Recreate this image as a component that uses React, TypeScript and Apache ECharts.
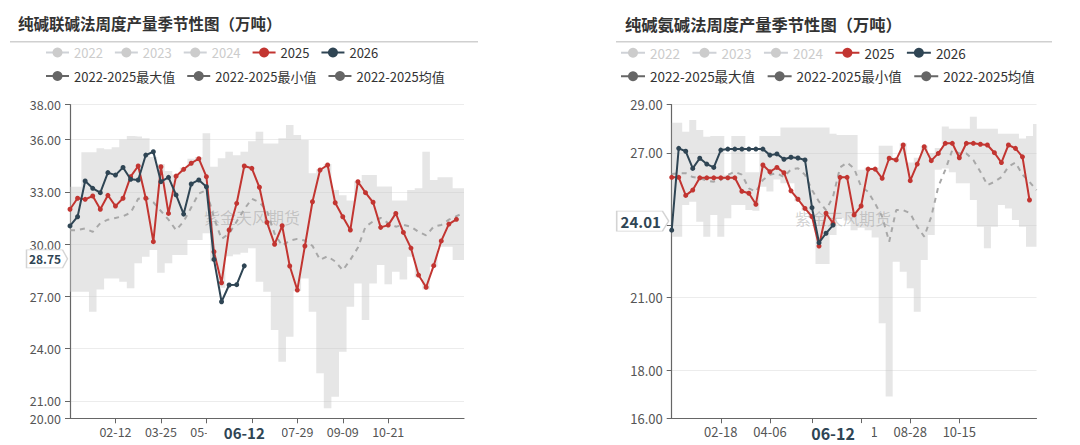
import React, { useEffect, useRef } from 'react';
import * as echarts from 'echarts';

const leftTitle = '纯碱联碱法周度产量季节性图（万吨）';
const rightTitle = '纯碱氨碱法周度产量季节性图（万吨）';
const watermark = '紫金天风期货';
const latestDate = '06-12';

const hiddenYears = ['2022', '2023', '2024'];
const shownYears = ['2025', '2026'];
const maxName = '2022-2025最大值';
const minName = '2022-2025最小值';
const meanName = '2022-2025均值';

const leftDates = ['01-01','01-08','01-15','01-22','01-29','02-05','02-12','02-19','02-26','03-04','03-11','03-18','03-25','04-01','04-08','04-15','04-22','04-29','05-06','05-13','05-20','05-27','06-03','06-10','06-17','06-24','07-01','07-08','07-15','07-22','07-29','08-05','08-12','08-19','08-26','09-02','09-09','09-16','09-23','09-30','10-07','10-14','10-21','10-28','11-04','11-11','11-18','11-25','12-02','12-09','12-16','12-23','12-30'];
const leftTickLabels = ['02-12','03-25','05-06','06-17','07-29','09-09','10-21'];

const left2025 = [32.0,32.63,32.57,32.76,32.0,32.8,32.18,32.63,33.87,34.48,32.63,30.14,34.44,31.76,33.9,34.29,34.64,34.9,33.87,29.56,27.78,30.81,32.34,34.48,34.35,33.26,31.25,29.99,31.05,28.74,27.36,29.89,32.43,34.25,34.54,32.37,31.57,30.81,33.58,32.95,32.4,30.96,31.09,31.76,30.67,29.77,28.22,27.52,28.76,30.18,31.15,31.42];
const left2026 = [31.04,31.57,33.62,33.2,32.95,34.1,33.96,34.4,33.72,33.68,35.11,35.3,33.58,33.83,32.82,31.72,33.45,33.68,33.29,29.12,26.69,27.65,27.67,28.75];
const leftMax = [33.29,33.29,35.27,35.27,35.5,35.44,35.56,36.0,36.2,36.17,36.07,35.0,34.6,34.2,34.0,34.4,34.9,35.0,36.36,34.44,34.92,35.3,35.1,35.3,35.9,36.45,35.78,35.78,36.07,36.83,36.26,35.97,34.06,34.3,34.6,33.1,32.8,32.5,33.6,33.96,33.96,33.3,33.3,32.5,32.5,33.1,33.2,35.3,33.68,33.83,33.83,33.2,33.2];
const leftMin = [27.27,27.27,27.27,26.12,27.4,28.03,28.03,27.84,27.46,28.9,29.27,29.66,28.36,28.9,29.37,29.37,30.23,30.23,30.62,29.0,27.5,29.3,29.4,29.5,29.76,27.84,27.27,25.07,23.25,24.68,27.3,28.03,26.12,22.58,20.57,21.24,23.82,26.4,27.74,25.64,27.74,28.8,27.7,28.41,27.97,29.27,28.1,27.4,28.7,29.85,29.85,29.08,29.08];
const leftMean = [30.8,30.8,30.9,30.7,31.2,31.4,31.5,31.6,31.8,32.6,32.7,32.4,31.9,31.4,30.8,31.3,32.1,32.9,33.1,31.5,30.3,30.6,31.3,32.0,32.6,32.4,31.9,30.6,29.9,30.2,30.3,30.2,29.9,29.1,29.3,29.0,28.5,29.1,29.8,31.0,31.3,31.5,31.2,31.0,31.1,31.0,30.7,30.5,31.0,31.1,31.4,31.6,31.8];

const rightDates = ['01-01','01-08','01-15','01-22','01-29','02-05','02-12','02-18','02-25','03-03','03-10','03-17','03-24','03-31','04-06','04-13','04-20','04-27','05-04','05-11','05-18','05-25','06-01','06-08','06-16','06-24','07-02','07-11','07-18','07-25','08-01','08-08','08-15','08-22','08-28','09-04','09-11','09-18','09-25','10-02','10-09','10-15','10-22','10-29','11-05','11-12','11-19','11-26','12-03','12-10','12-17','12-24','12-31'];
const rightTickLabels = ['02-18','04-06','05-18','07-11','08-28','10-15'];

const right2025 = [25.99,25.99,25.24,25.46,25.97,25.97,25.97,25.97,25.97,25.97,25.41,25.33,24.87,26.5,26.22,26.4,26.18,25.43,25.08,24.7,24.36,23.14,24.5,24.08,25.99,25.99,24.43,24.8,26.33,26.33,25.95,26.78,26.71,27.33,25.85,26.54,27.26,26.68,26.98,27.4,27.4,26.8,27.4,27.4,27.36,27.33,27.01,26.6,27.33,27.19,26.84,25.05];
const right2026 = [23.8,27.19,27.07,26.36,26.78,26.54,26.4,27.12,27.16,27.16,27.16,27.16,27.16,27.16,26.91,26.96,26.74,26.82,26.79,26.71,24.73,23.28,23.67,24.01];
const rightMax = [28.25,28.25,27.88,28.37,27.95,27.67,27.7,27.7,26.1,27.7,27.7,26.2,26.2,27.7,27.7,27.7,28.05,28.05,28.05,28.05,28.05,28.05,28.05,27.8,27.74,27.74,27.74,26.3,26.4,26.4,27.3,27.3,26.8,27.4,26.6,26.8,27.3,27.0,27.2,28.1,28.0,28.0,28.0,28.5,28.0,28.0,28.0,27.8,27.8,27.8,27.6,27.7,28.2];
const rightMin = [23.53,23.53,24.84,24.98,24.15,23.53,24.43,23.53,24.29,24.84,24.84,24.63,24.6,25.6,25.4,25.9,25.74,25.74,25.0,24.6,24.3,22.4,22.4,23.6,24.3,24.2,23.8,23.9,23.8,23.5,19.94,16.9,22.49,22.08,21.39,20.42,22.56,23.6,26.3,26.36,26.2,25.74,25.74,25.05,23.94,23.05,23.94,24.84,24.7,24.22,23.94,23.11,23.11];
const rightMean = [26.13,26.16,26.16,26.0,25.95,25.85,25.81,25.88,26.09,26.22,26.1,25.53,25.39,25.88,26.1,26.16,26.0,26.32,26.37,26.1,25.46,24.98,24.63,25.19,26.4,26.6,26.36,25.6,25.39,24.9,24.36,23.32,24.63,24.63,24.5,23.94,23.53,24.36,25.6,26.3,27.12,26.98,26.98,26.71,26.22,25.67,25.8,26.0,26.43,26.6,26.1,25.8,25.46];

const leftYRange = [20, 38];
const rightYRange = [16, 29];

const FONT = '"Noto Sans CJK SC", "Noto Sans", sans-serif';
const RED = '#c23531';
const NAVY = '#2f4554';
const TAG_PATH = 'path://M0,0 L44,0 L50,10 L44,20 L0,20 Z';

const panels = [
  { title: leftTitle, dates: leftDates, ticks: leftTickLabels, y2025: left2025, y2026: left2026, max: leftMax, min: leftMin, mean: leftMean, yRange: leftYRange },
  { title: rightTitle, dates: rightDates, ticks: rightTickLabels, y2025: right2025, y2026: right2026, max: rightMax, min: rightMin, mean: rightMean, yRange: rightYRange },
];

const looks = [
  { grid: { left: 70, right: 616, top: 104.7, bottom: 26.7 }, axisFont: 12.5, legendFont: 13, ptrFont: 15, tagFont: 12, tagSize: [41, 18], tagOffset: [-23, -7], legendLeft: 45, itemWidth: 23, itemGap: 11, titleLeft: 18, titleTop: 15, titleFont: 15.5, line: [10, 478], wm: [252, 217] },
  { grid: { left: 671.7, right: 43.5, top: 104.7, bottom: 26.7 }, axisFont: 13, legendFont: 13.5, ptrFont: 16, tagFont: 15, tagSize: [52, 20], tagOffset: [-29, -4], legendLeft: 620, itemWidth: 24, itemGap: 11.5, titleLeft: 625, titleTop: 16, titleFont: 16.3, line: [616, 1052], wm: [843, 218] },
];

function buildOption() {
  const titles: any[] = [];
  const legends: any[] = [];
  const grids: any[] = [];
  const xAxes: any[] = [];
  const yAxes: any[] = [];
  const series: any[] = [];
  const graphics: any[] = [];

  panels.forEach((d, p) => {
    const lk = looks[p];
    const lastIdx = d.y2026.length - 1;
    const lastVal = d.y2026[lastIdx];
    const showTick = (_i: number, v: string) => d.ticks.indexOf(v) >= 0;

    titles.push({
      text: d.title, left: lk.titleLeft, top: lk.titleTop, padding: 0,
      textStyle: { fontSize: lk.titleFont, fontWeight: 'bold', color: '#333', fontFamily: FONT },
    });

    const legendBase = {
      left: lk.legendLeft, padding: 0, itemWidth: lk.itemWidth, itemHeight: 12.5, itemGap: lk.itemGap,
      inactiveColor: '#ccc', selectedMode: false,
      textStyle: { color: '#333', fontSize: lk.legendFont, fontFamily: FONT },
    };
    legends.push({
      ...legendBase, top: 46,
      data: [...hiddenYears, ...shownYears].map((n) => ({ name: n })),
      selected: { '2022': false, '2023': false, '2024': false },
    });
    legends.push({
      ...legendBase, top: 69.5,
      data: [maxName, minName, meanName].map((n) => ({
        name: n,
        itemStyle: { color: '#666', opacity: 1 },
        lineStyle: { color: '#666', opacity: 1, type: 'solid', width: 2 },
      })),
    });

    grids.push({ ...lk.grid, containLabel: false, outerBoundsMode: 'none' });

    xAxes.push({
      type: 'category', gridIndex: p, data: d.dates, boundaryGap: false,
      axisLine: { lineStyle: { color: '#666', width: 1.2 } },
      axisTick: { show: true, length: 5, interval: showTick, lineStyle: { color: '#666' } },
      axisLabel: { interval: showTick, color: '#555', fontSize: lk.axisFont, margin: 7, fontFamily: FONT },
      splitLine: { show: false },
      axisPointer: {
        show: true, type: 'line', value: lastIdx, status: 'show', triggerTooltip: false,
        lineStyle: { opacity: 0 },
        label: {
          show: true, formatter: () => latestDate, backgroundColor: '#fff', color: NAVY,
          fontWeight: 'bold', fontSize: lk.ptrFont, padding: [2, 17], margin: 5,
          shadowBlur: 0, borderWidth: 0, fontFamily: FONT,
        },
      },
    });

    yAxes.push({
      type: 'value', gridIndex: p, min: d.yRange[0], max: d.yRange[1],
      axisLine: { show: true, lineStyle: { color: '#666', width: 1.2 } },
      axisTick: { show: true, length: 5, lineStyle: { color: '#666' } },
      axisLabel: { color: '#555', fontSize: lk.axisFont, margin: 9, fontFamily: FONT, formatter: (v: number) => v.toFixed(2) },
      splitLine: { lineStyle: { color: '#ececec', width: 1.2 } },
    });

    const base = { type: 'line', xAxisIndex: p, yAxisIndex: p };
    const stack = 'band' + p;

    hiddenYears.forEach((n) => series.push({ ...base, name: n, data: [], symbol: 'circle', itemStyle: { color: '#ccc' } }));

    series.push({
      ...base, name: minName, data: d.min, stack, step: 'middle', symbol: 'circle', showSymbol: false,
      lineStyle: { opacity: 0 }, itemStyle: { color: '#666' }, z: 1, silent: true,
    });
    series.push({
      ...base, name: maxName, data: d.max.map((v, i) => +(v - d.min[i]).toFixed(3)), stack, step: 'middle',
      symbol: 'circle', showSymbol: false, lineStyle: { opacity: 0 },
      areaStyle: { color: 'rgb(200,200,200)', opacity: 0.45 }, itemStyle: { color: '#666' }, z: 1, silent: true,
    });
    series.push({
      ...base, name: meanName, data: d.mean, symbol: 'circle', showSymbol: false,
      lineStyle: { color: '#a8a8a8', width: 2, type: [5, 5] }, itemStyle: { color: '#666' }, z: 2, silent: true,
    });
    series.push({
      ...base, name: '2025', data: d.y2025, symbol: 'circle', symbolSize: 5, showAllSymbol: true,
      lineStyle: { width: 2, color: RED }, itemStyle: { color: RED }, z: 4,
    });
    series.push({
      ...base, name: '2026', data: d.y2026, symbol: 'circle', symbolSize: 5, showAllSymbol: true,
      lineStyle: { width: 2, color: NAVY }, itemStyle: { color: NAVY }, z: 5,
      markPoint: {
        silent: true, symbol: TAG_PATH, symbolSize: lk.tagSize, symbolOffset: lk.tagOffset,
        itemStyle: { color: '#fff', borderColor: '#d4d4d4', borderWidth: 1 },
        label: {
          show: true, position: 'inside', color: NAVY, fontWeight: 'bold', fontSize: lk.tagFont,
          offset: [-2, 0], fontFamily: FONT, formatter: lastVal.toFixed(2),
        },
        data: [{ coord: [0, lastVal] }],
      },
    });

    graphics.push({
      type: 'line', silent: true, shape: { x1: lk.line[0], y1: 41.7, x2: lk.line[1], y2: 41.7 },
      style: { stroke: '#d0d0d0', lineWidth: 1.5 },
    });
    graphics.push({
      type: 'text', silent: true, x: lk.wm[0], y: lk.wm[1], z: 1.5,
      style: { text: watermark, fill: 'rgba(120,120,120,0.33)', font: `16px ${FONT}`, textAlign: 'center', textVerticalAlign: 'middle' },
    });
  });

  return {
    animation: false,
    backgroundColor: '#fff',
    textStyle: { fontFamily: FONT },
    title: titles,
    legend: legends,
    grid: grids,
    xAxis: xAxes,
    yAxis: yAxes,
    series,
    graphic: graphics,
  };
}

export default function App() {
  const ref = useRef<HTMLDivElement>(null);
  useEffect(() => {
    const chart = echarts.init(ref.current as HTMLDivElement, undefined, { renderer: 'svg' });
    chart.setOption(buildOption() as any);
    return () => chart.dispose();
  }, []);
  return (
    <div
      ref={ref}
      style={{ position: 'fixed', left: 0, top: 0, width: 1080, height: 445, background: '#fff' }}
    />
  );
}
